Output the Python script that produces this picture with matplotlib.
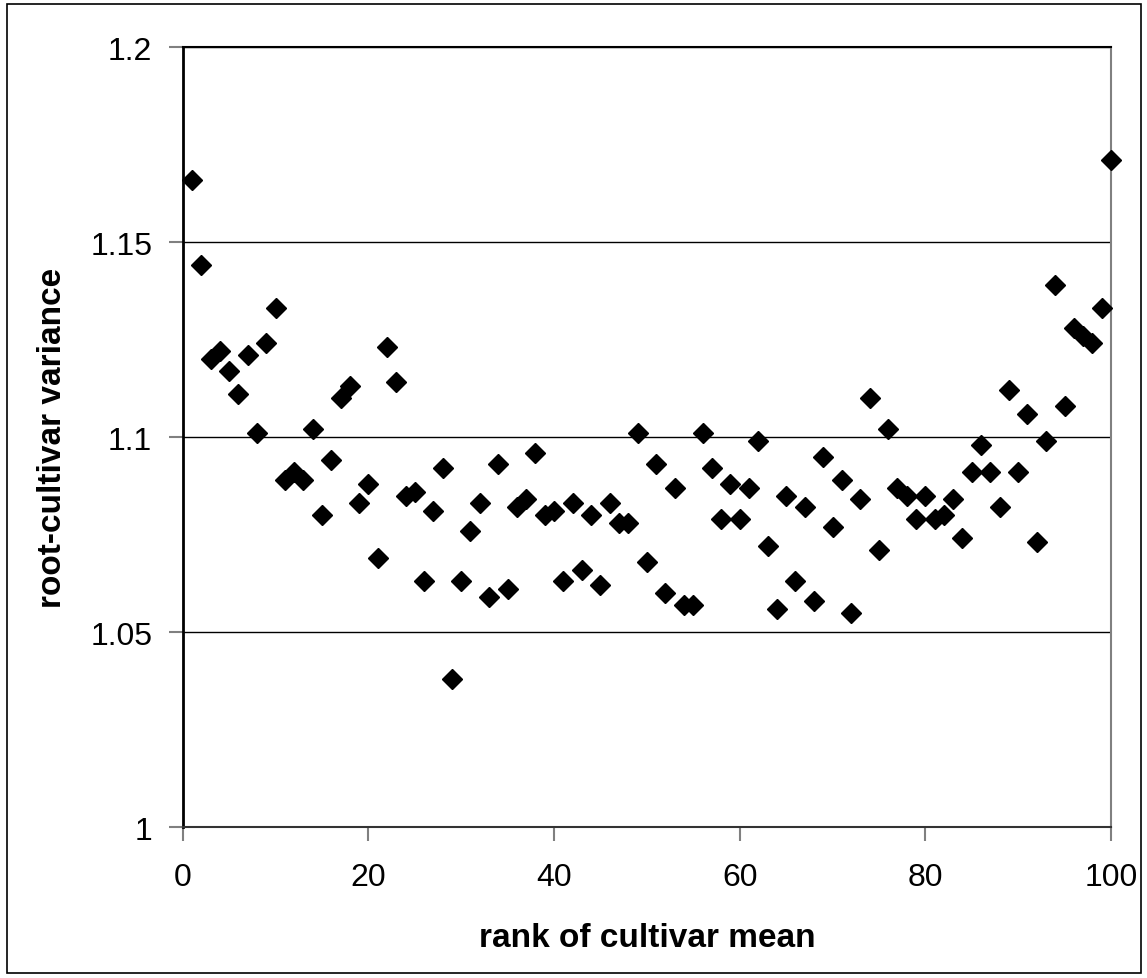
import matplotlib
matplotlib.use("Agg")
import matplotlib.pyplot as plt
from matplotlib.patches import Rectangle

plt.rcParams['font.family'] = ['Liberation Sans', 'DejaVu Sans']

# rank of cultivar mean (1..100) and the root-cultivar variance
RANKS = list(range(1, 101))
VARIANCE = [
    1.166, 1.144, 1.120, 1.122, 1.117, 1.111, 1.121, 1.101, 1.124, 1.133,
    1.089, 1.091, 1.089, 1.102, 1.080, 1.094, 1.110, 1.113, 1.083, 1.088,
    1.069, 1.123, 1.114, 1.085, 1.086, 1.063, 1.081, 1.092, 1.038, 1.063,
    1.076, 1.083, 1.059, 1.093, 1.061, 1.082, 1.084, 1.096, 1.080, 1.081,
    1.063, 1.083, 1.066, 1.080, 1.062, 1.083, 1.078, 1.078, 1.101, 1.068,
    1.093, 1.060, 1.087, 1.057, 1.057, 1.101, 1.092, 1.079, 1.088, 1.079,
    1.087, 1.099, 1.072, 1.056, 1.085, 1.063, 1.082, 1.058, 1.095, 1.077,
    1.089, 1.055, 1.084, 1.110, 1.071, 1.102, 1.087, 1.085, 1.079, 1.085,
    1.079, 1.080, 1.084, 1.074, 1.091, 1.098, 1.091, 1.082, 1.112, 1.091,
    1.106, 1.073, 1.099, 1.139, 1.108, 1.128, 1.126, 1.124, 1.133, 1.171,
]

X_TICKS = [0, 20, 40, 60, 80, 100]
Y_TICKS = [1, 1.05, 1.1, 1.15, 1.2]
Y_TICK_LABELS = ["1", "1.05", "1.1", "1.15", "1.2"]


def main():
    fig = plt.figure(figsize=(11.47, 9.79), dpi=100)
    ax = fig.add_axes([0.1593, 0.1542, 0.8093, 0.7967])

    # horizontal gridlines like the Excel default
    for y in Y_TICKS[1:]:
        ax.axhline(y, color='black', linewidth=1.0, zorder=1)

    ax.plot(RANKS, VARIANCE, linestyle='none', marker='D', markersize=10.5,
            color='black', zorder=3, clip_on=False)

    ax.set_xlim(0, 100)
    ax.set_ylim(1, 1.2)
    ax.set_xticks(X_TICKS)
    ax.set_yticks(Y_TICKS)
    ax.set_yticklabels(Y_TICK_LABELS)

    ax.spines['left'].set_linewidth(2.0)
    ax.spines['left'].set_color('black')
    ax.spines['bottom'].set_linewidth(1.5)
    ax.spines['bottom'].set_color('#333333')
    ax.spines['right'].set_linewidth(1.5)
    ax.spines['right'].set_color('#808080')
    ax.spines['top'].set_linewidth(1.5)
    ax.spines['top'].set_color('black')

    ax.tick_params(axis='both', direction='out', length=10, width=1.5,
                   color='#808080', labelsize=23)
    ax.tick_params(axis='x', pad=15)
    ax.tick_params(axis='y', pad=12)

    ax.set_xlabel("rank of cultivar mean", fontsize=24, fontweight='bold', labelpad=22)
    ax.set_ylabel("root-cultivar variance", fontsize=24, fontweight='bold', labelpad=16)

    # thin frame round the whole chart area
    fig.patches.append(Rectangle((0.006, 0.005), 0.989, 0.99, transform=fig.transFigure,
                                 fill=False, edgecolor='black', linewidth=1.2))

    fig.savefig("out.png", dpi=100)


if __name__ == "__main__":
    main()
